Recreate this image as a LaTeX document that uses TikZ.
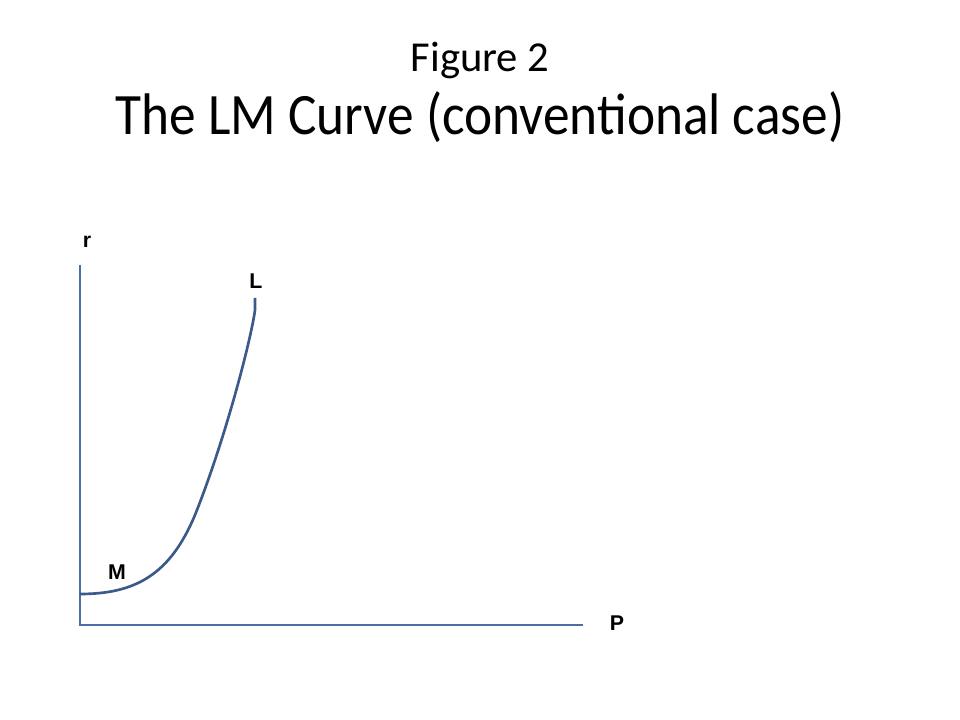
\documentclass[tikz,border=0pt]{standalone}
\usepackage{fontspec}
\setmainfont{Carlito}
\newfontfamily\labelfont{Liberation Sans}
\usepackage{tikz}
\usetikzlibrary{positioning}
\usepackage{xcolor}
\definecolor{axisblue}{HTML}{4A6FA5}
\definecolor{curveblue}{HTML}{3B5A8A}

\begin{document}
\begin{tikzpicture}[
    x=0.75pt, y=-0.75pt,
    axis/.style={draw=axisblue, line width=0.9pt},
    lmcurve/.style={draw=curveblue, line width=2pt},
    pointlabel/.style={font=\labelfont\bfseries\fontsize{16}{18}\selectfont, inner sep=0pt},
  ]
  \useasboundingbox (0,0) rectangle (960,720);

  %% Title
  \node[font=\fontsize{32}{38}\selectfont] (fig) at (480,60) {Figure 2};
  \node[font=\fontsize{40}{48}\selectfont, yscale=1.1] (title) at (480,117)
    {The LM Curve (conventional case)};

  %% Axes
  \coordinate (origin) at (80,625);
  \coordinate (ytop) at (80,265);
  \coordinate (xend) at (583,625);
  \draw[axis] (ytop) -- (origin) -- (xend);

  %% Axis labels
  \node[pointlabel] (r) at (87,242) {r};
  \node[pointlabel] (p) at (617,623) {P};

  %% LM curve
  \coordinate (mstart) at (80,594);
  \coordinate (bend) at (195,515);
  \coordinate (lend) at (255,298);
  \draw[lmcurve] (mstart) .. controls (135,594) and (170,575) .. (bend)
    .. controls (225,440) and (251,340) .. (255,310) -- (lend);

  %% Curve labels
  \node[pointlabel] (m) at (117,572) {M};
  \node[pointlabel] (l) at (256,281) {L};

\end{tikzpicture}
\end{document}
